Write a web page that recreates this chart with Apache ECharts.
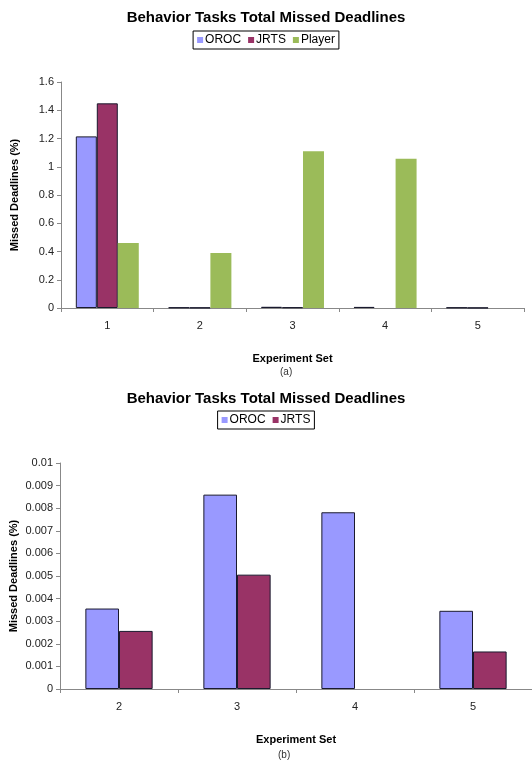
<!DOCTYPE html>
<html>
<head>
<meta charset="utf-8">
<script src="https://cdn.jsdelivr.net/npm/echarts@6/dist/echarts.min.js"></script>
<style>
html,body{margin:0;padding:0;background:#fff;}
#main{width:532px;height:762px;}
</style>
</head>
<body>
<div id="main"></div>
<script>
// chart (a)
var setsA = ['1', '2', '3', '4', '5'];
var orocA = [1.215, 0.00356, 0.0086, 0.00782, 0.00346];
var jrtsA = [1.449, 0.00257, 0.00506, null, 0.00166];
var playerA = [0.46, 0.39, 1.11, 1.057, null];
var yTicksA = [0, 1.6, 0.2];

// chart (b)
var setsB = ['2', '3', '4', '5'];
var orocB = [0.00356, 0.0086, 0.00782, 0.00346];
var jrtsB = [0.00257, 0.00506, null, 0.00166];
var yTicksB = [0, 0.01, 0.001];

var titleText = 'Behavior Tasks Total Missed Deadlines';
var yName = 'Missed Deadlines (%)';
var xName = 'Experiment Set';

var FONT = '"Liberation Sans", Arial, sans-serif';
var cOroc = '#9999FF', cJrts = '#993366', cPlayer = '#9BBB59';

function legendBox(top, names){
	return {
		top: top,
		left: 'center',
		data: names,
		icon: 'rect',
		itemWidth: 6,
		itemHeight: 6,
		itemGap: 7,
		padding: [3, 4],
		borderColor: '#000',
		borderWidth: 1,
		itemStyle: {borderWidth: 0},
		textStyle: {fontFamily: FONT, fontSize: 12, color: '#000', padding: [0, 0, 0, -3]}
	};
}

function xAx(idx, data){
	return {
		type: 'category',
		gridIndex: idx,
		data: data,
		name: xName,
		nameLocation: 'middle',
		nameGap: 45,
		nameTextStyle: {fontFamily: FONT, fontSize: 11, fontWeight: 'bold', color: '#000'},
		axisLine: {lineStyle: {color: '#888'}},
		axisTick: {show: true, length: 4, lineStyle: {color: '#888'}},
		axisLabel: {fontFamily: FONT, fontSize: 11, color: '#222', margin: 12}
	};
}

function yAx(idx, t, fmt){
	return {
		type: 'value',
		gridIndex: idx,
		min: t[0],
		max: t[1],
		interval: t[2],
		name: yName,
		nameLocation: 'middle',
		nameRotate: 90,
		nameGap: 41,
		nameMoveOverlap: false,
		nameTextStyle: {fontFamily: FONT, fontSize: 11, fontWeight: 'bold', color: '#000'},
		splitLine: {show: false},
		axisLine: {show: true, lineStyle: {color: '#888'}},
		axisTick: {show: true, length: 4, lineStyle: {color: '#888'}},
		axisLabel: {fontFamily: FONT, fontSize: 11, color: '#222', margin: 7, formatter: fmt}
	};
}

function bar(name, data, color, idx, gap, border){
	return {
		name: name,
		type: 'bar',
		xAxisIndex: idx,
		yAxisIndex: idx,
		data: data,
		barGap: '0%',
		barCategoryGap: gap,
		itemStyle: {color: color, borderColor: border ? '#1a1a2e' : color, borderWidth: border ? 1 : 0},
		emphasis: {disabled: true}
	};
}

var myChart = echarts.init(document.getElementById('main'));
var option = {
	backgroundColor: '#fff',
	animation: false,
	title: [
		{text: titleText, left: 'center', top: 5, textStyle: {fontFamily: FONT, fontSize: 15, fontWeight: 'bold', color: '#000'}},
		{text: '(a)', left: 275, top: 362, textStyle: {fontFamily: FONT, fontSize: 10, fontWeight: 'normal', color: '#333'}},
		{text: titleText, left: 'center', top: 386, textStyle: {fontFamily: FONT, fontSize: 15, fontWeight: 'bold', color: '#000'}},
		{text: '(b)', left: 273, top: 745, textStyle: {fontFamily: FONT, fontSize: 10, fontWeight: 'normal', color: '#333'}}
	],
	legend: [
		legendBox(31, ['OROC', 'JRTS', 'Player']),
		legendBox(411, ['OROC', 'JRTS'])
	],
	grid: [
		{left: 61, right: 8, top: 82, height: 226, outerBoundsMode: 'none'},
		{left: 60, right: 0, top: 463, height: 226, outerBoundsMode: 'none'}
	],
	xAxis: [xAx(0, setsA), xAx(1, setsB)],
	yAxis: [
		yAx(0, yTicksA, function(v){ return String(+v.toFixed(1)); }),
		yAx(1, yTicksB, function(v){ return String(+v.toFixed(3)); })
	],
	series: [
		bar('OROC', orocA, cOroc, 0, '32%', true),
		bar('JRTS', jrtsA, cJrts, 0, '32%', true),
		bar('Player', playerA, cPlayer, 0, '32%', false),
		bar('OROC', orocB, cOroc, 1, '43%', true),
		bar('JRTS', jrtsB, cJrts, 1, '43%', true)
	]
};
myChart.setOption(option);
</script>
</body>
</html>
